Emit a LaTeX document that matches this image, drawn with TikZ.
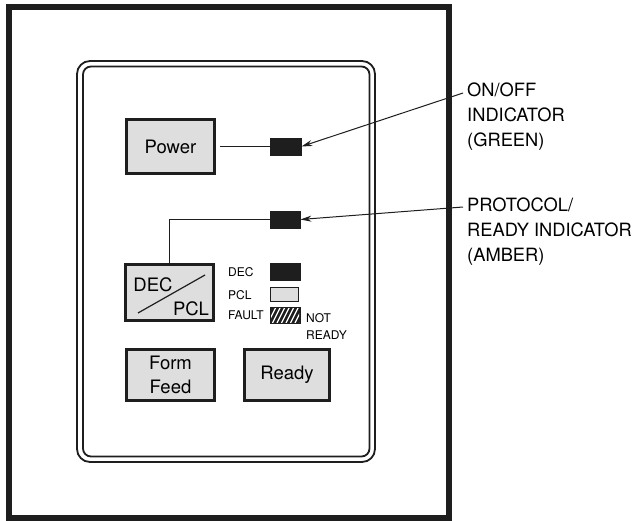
\documentclass[tikz,border=0pt]{standalone}
\usepackage{fontspec}
\setmainfont{TeX Gyre Heros}
\usetikzlibrary{arrows.meta}
\definecolor{ink}{HTML}{1E1E1E}
\definecolor{btnfill}{HTML}{DEDEDE}
\tikzset{
  btn/.style={draw=ink, line width=3pt, fill=btnfill, inner sep=0pt,
    minimum width=88pt, minimum height=54pt, align=center,
    font=\fontsize{18.5}{24}\selectfont},
  led/.style={draw=ink, fill=ink, line width=0.8pt, inner sep=0pt,
    minimum width=30pt, minimum height=17pt},
  legtxt/.style={font=\fontsize{12}{16}\selectfont, anchor=west, inner sep=0pt},
  lbl/.style={font=\fontsize{18.3}{25}\selectfont, anchor=west, inner sep=0pt, align=left},
  wire/.style={draw=ink, line width=1pt},
  pointer/.style={draw=ink, line width=1pt, -{Stealth[length=11pt,width=6pt]}}
}
\begin{document}
\begin{tikzpicture}[x=1pt,y=-1pt]
\useasboundingbox (0,0) rectangle (637,521);
% outer frame
\draw[ink, line width=6pt] (8.5,7) rectangle (449,518);
% panel double rounded border
\draw[ink, line width=1.8pt, rounded corners=13pt] (77,61) rectangle (375,462);
\draw[ink, line width=1.8pt, rounded corners=8pt] (83,66.5) rectangle (369.5,456.5);

% buttons
\node[btn] (power) at (170.5,147) {Power};
\node[btn, minimum height=56pt] (decpcl) at (169.5,292.5) {};
\node[btn, minimum height=51pt] (form) at (170.5,375) {Form\\Feed};
\node[btn, minimum width=85pt, minimum height=51pt] (ready) at (287,375) {Ready};
\draw[ink, line width=1.2pt] (138,313) -- (205,275);
\node[font=\fontsize{18.5}{24}\selectfont, inner sep=0pt] (dectxt) at (153,285) {DEC};
\node[font=\fontsize{18.5}{24}\selectfont, inner sep=0pt] (pcltxt) at (191,309) {PCL};

% indicators
\node[led, minimum width=31pt] (pled) at (285.5,146.5) {};
\node[led] (rled) at (285,219.5) {};

% connections
\draw[wire] (power.east) ++(4,0) coordinate (pw) -- (pw -| pled.west);
\draw[wire] (rled.west) -| (decpcl.north -| 169,0) coordinate (dn);

% legend
\node[legtxt] (ldec) at (228,272) {DEC};
\node[legtxt] (lpcl) at (228,295) {PCL};
\node[legtxt] (lfault) at (228,315) {FAULT};
\node[led] (sdec) at (285,271.5) {};
\node[draw=ink, fill=btnfill, line width=1.6pt, inner sep=0pt, minimum width=28pt, minimum height=14pt] (spcl) at (284.5,294.5) {};
\node[led, minimum height=16pt] (sfault) at (285,315) {};
\begin{scope}
  \clip (271,308) rectangle (299,322);
  \foreach \i in {0,...,7} {
    \draw[white, line width=1.3pt] (268+4.5*\i,323) -- (276+4.5*\i,307);
  }
\end{scope}
\node[legtxt] (lnot) at (306,318) {NOT};
\node[legtxt] (lnr) at (306,335) {READY};

% callouts
\node[lbl] (lab1) at (467,117) {ON/OFF\\INDICATOR\\(GREEN)};
\node[lbl] (lab2) at (467,232) {PROTOCOL/\\READY INDICATOR\\(AMBER)};
\coordinate (a1) at (463,93);
\coordinate (a2) at (463,207);
\draw[pointer] (a1) -- (pled.east);
\draw[pointer] (a2) -- (rled.east);
\end{tikzpicture}
\end{document}
